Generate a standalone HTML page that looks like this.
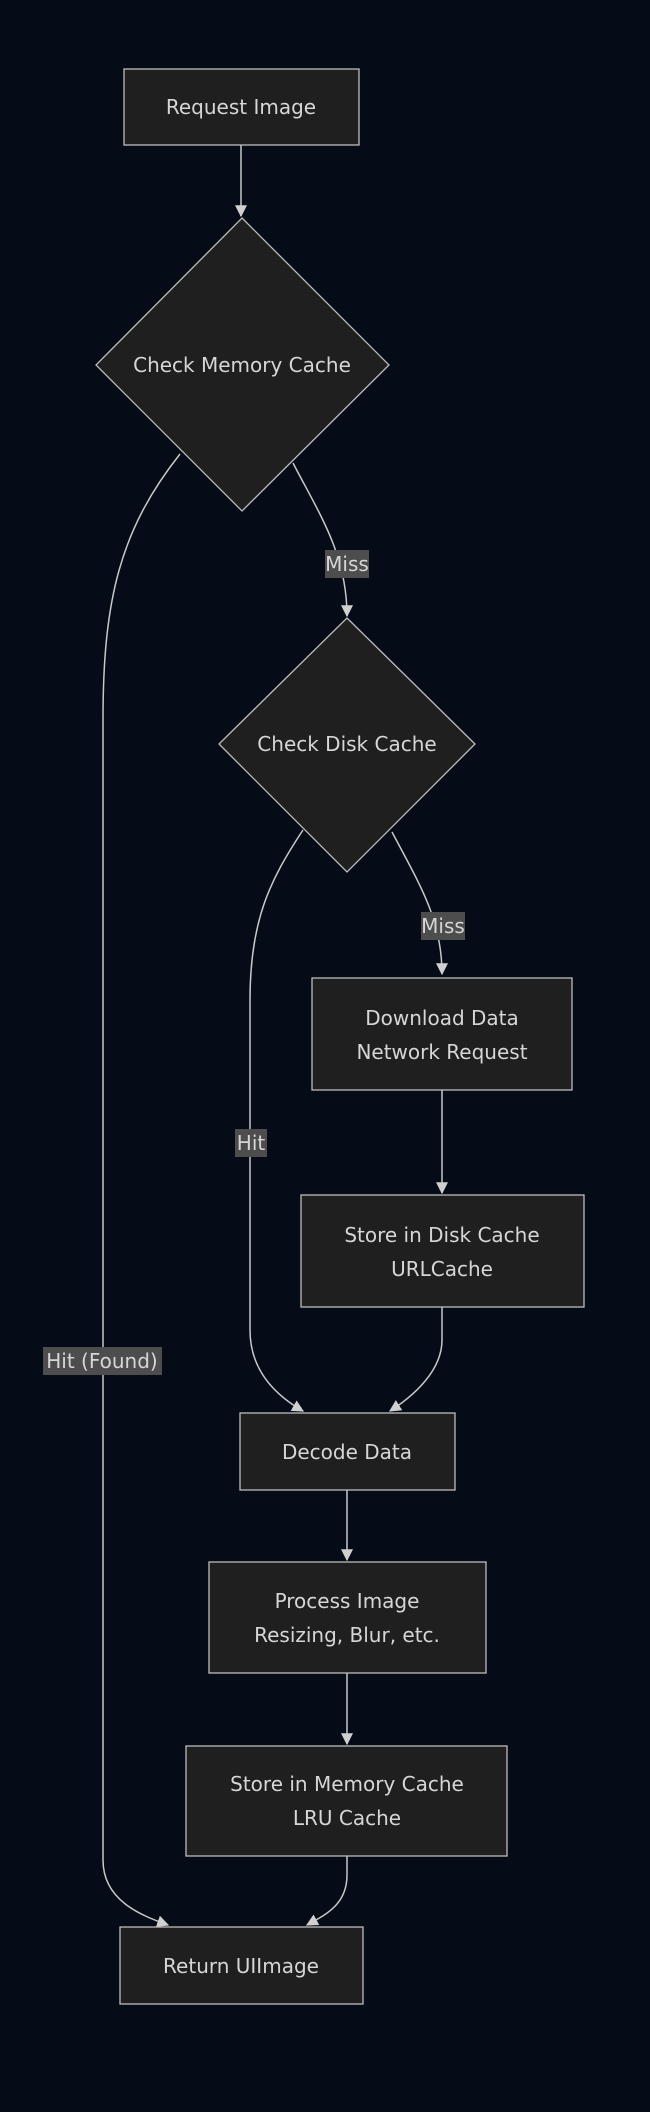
<!DOCTYPE html>
<html><head><meta charset="utf-8"><style>
html,body{margin:0;padding:0;background:#050b17;}
svg{display:block}
text{font-family:"DejaVu Sans","Liberation Sans",sans-serif;font-size:20px;fill:#d6d6d6;text-anchor:middle;dominant-baseline:central}
.n{fill:#1f1f1f;stroke:#bdbdbd;stroke-width:1.3}
.e{fill:none;stroke:#c8c8c8;stroke-width:1.5}
.lb{fill:#4d4d4d}
</style></head><body>
<svg width="650" height="2112" viewBox="0 0 650 2112">
<defs><marker id="a" viewBox="0 0 10 10" refX="9" refY="5" markerWidth="8" markerHeight="8" orient="auto-start-reverse"><path d="M0,0L10,5L0,10z" fill="#d0d0d0"/></marker></defs>
<path class="e" d="M241,145 L241,216" marker-end="url(#a)"/>
<path class="e" d="M180,454 C120,530 103,600 103,720 L103,1860 C103,1900 140,1915 168,1925" marker-end="url(#a)"/>
<path class="e" d="M293,463 C320,515 347,555 347,616" marker-end="url(#a)"/>
<path class="e" d="M303,830 C270,880 250,920 250,1000 L250,1330 C250,1370 275,1395 303,1411" marker-end="url(#a)"/>
<path class="e" d="M392,832 C420,885 442,920 442,974" marker-end="url(#a)"/>
<path class="e" d="M442,1090 L442,1193" marker-end="url(#a)"/>
<path class="e" d="M442,1307 L442,1340 C442,1370 415,1395 390,1411" marker-end="url(#a)"/>
<path class="e" d="M347,1490 L347,1560" marker-end="url(#a)"/>
<path class="e" d="M347,1673 L347,1744" marker-end="url(#a)"/>
<path class="e" d="M347,1856 L347,1875 C347,1905 325,1915 307,1925" marker-end="url(#a)"/>
<rect class="n" x="124" y="69" width="235" height="76"/>
<text x="241" y="107">Request Image</text>
<polygon class="n" points="242,218 389,365 242,511 96,365"/>
<text x="242" y="365">Check Memory Cache</text>
<polygon class="n" points="347,618 475,744 347,872 219,744"/>
<text x="347" y="744">Check Disk Cache</text>
<rect class="n" x="312" y="978" width="260" height="112"/>
<text x="442" y="1018">Download Data</text>
<text x="442" y="1052">Network Request</text>
<rect class="n" x="301" y="1195" width="283" height="112"/>
<text x="442" y="1235">Store in Disk Cache</text>
<text x="442" y="1269">URLCache</text>
<rect class="n" x="240" y="1413" width="215" height="77"/>
<text x="347" y="1452">Decode Data</text>
<rect class="n" x="209" y="1562" width="277" height="111"/>
<text x="347" y="1601">Process Image</text>
<text x="347" y="1635">Resizing, Blur, etc.</text>
<rect class="n" x="186" y="1746" width="321" height="110"/>
<text x="347" y="1784">Store in Memory Cache</text>
<text x="347" y="1818">LRU Cache</text>
<rect class="n" x="120" y="1927" width="243" height="77"/>
<text x="241" y="1966">Return UIImage</text>
<rect class="lb" x="325" y="550" width="44" height="28"/>
<text x="347" y="564">Miss</text>
<rect class="lb" x="421" y="912" width="44" height="28"/>
<text x="443" y="926">Miss</text>
<rect class="lb" x="235" y="1129" width="32" height="28"/>
<text x="251" y="1143">Hit</text>
<rect class="lb" x="43" y="1347" width="119" height="28"/>
<text x="102" y="1361">Hit (Found)</text>
</svg>
</body></html>
